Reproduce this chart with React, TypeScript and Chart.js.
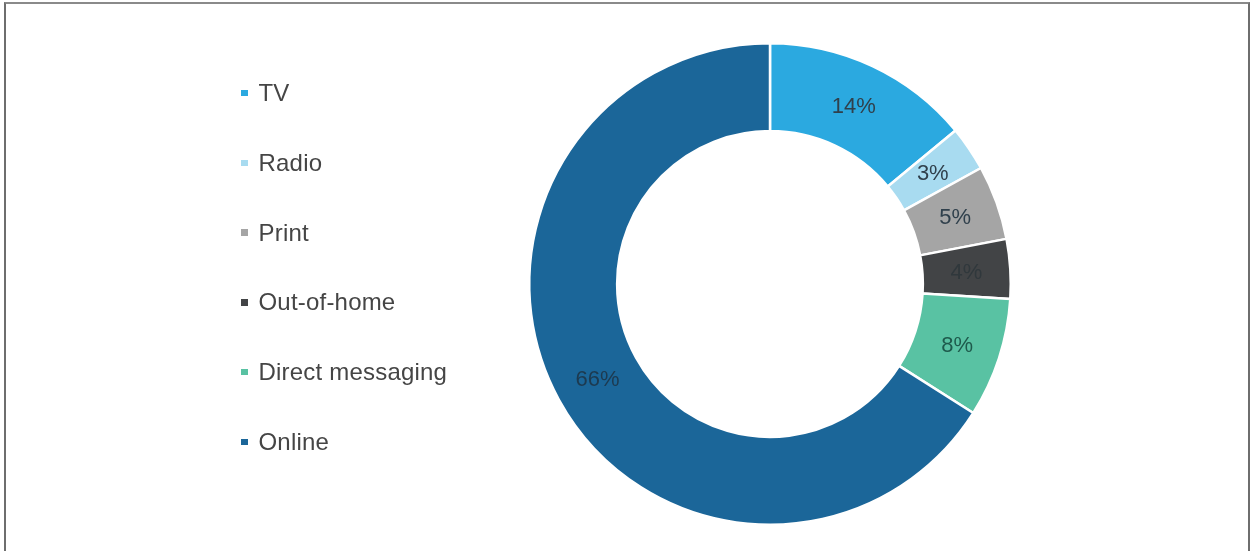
import React, { useEffect, useRef } from "react";
import { Chart, registerables } from "chart.js";

Chart.register(...registerables);

const categories = ["TV", "Radio", "Print", "Out-of-home", "Direct messaging", "Online"];
const shares = [14, 3, 5, 4, 8, 66];
const colors = ["#2BA9E0", "#A8DBF0", "#A5A5A5", "#424446", "#59C2A3", "#1B6699"];
const labelColors = ["#30404c", "#30404c", "#30404c", "#30383c", "#1e5a4c", "#1d3a50"];

const FONT = "'Liberation Sans', Arial, sans-serif";

const arcLabels = {
  id: "arcLabels",
  afterDatasetsDraw(chart: any) {
    const { ctx } = chart;
    const meta = chart.getDatasetMeta(0);
    ctx.save();
    ctx.font = `22px ${FONT}`;
    ctx.textAlign = "center";
    ctx.textBaseline = "middle";
    meta.data.forEach((arc: any, i: number) => {
      const p = arc.tooltipPosition();
      ctx.fillStyle = labelColors[i];
      ctx.fillText(`${shares[i]}%`, p.x, p.y + 1);
    });
    ctx.restore();
  },
};

export default function App() {
  const ref = useRef<HTMLCanvasElement | null>(null);
  useEffect(() => {
    document.body.style.margin = "0";
    const chart = new Chart(ref.current as HTMLCanvasElement, {
      type: "doughnut",
      data: {
        labels: categories,
        datasets: [
          {
            data: shares,
            backgroundColor: colors,
            borderColor: "#ffffff",
            borderWidth: 2.5,
          },
        ],
      },
      options: {
        responsive: false,
        animation: false,
        cutout: "63.5%",
        layout: { padding: { left: 528, right: 241, top: 42, bottom: 25 } },
        plugins: { legend: { display: false }, tooltip: { enabled: false } },
      },
      plugins: [arcLabels],
    });
    return () => chart.destroy();
  }, []);

  return (
    <div style={{ position: "relative", width: 1253, height: 551, overflow: "hidden", background: "#fff" }}>
      <div
        style={{
          position: "absolute",
          left: 4,
          top: 2,
          width: 1246,
          height: 600,
          borderLeft: "2px solid #6e6e6e",
          borderRight: "2px solid #6e6e6e",
          borderTop: "2px solid #8a8a8a",
          boxSizing: "border-box",
        }}
      />
      <canvas ref={ref} width={1253} height={551} style={{ position: "absolute", left: 0, top: 0 }} />
      {categories.map((c, i) => (
        <div
          key={c}
          style={{
            position: "absolute",
            left: 241,
            top: 78 + i * 69.8,
            height: 30,
            display: "flex",
            alignItems: "center",
            fontFamily: FONT,
            fontSize: 24,
            letterSpacing: 0.2,
            color: "#454545",
            whiteSpace: "nowrap",
          }}
        >
          <span style={{ display: "inline-block", width: 6.5, height: 6.5, background: colors[i], marginRight: 11 }} />
          {c}
        </div>
      ))}
    </div>
  );
}
